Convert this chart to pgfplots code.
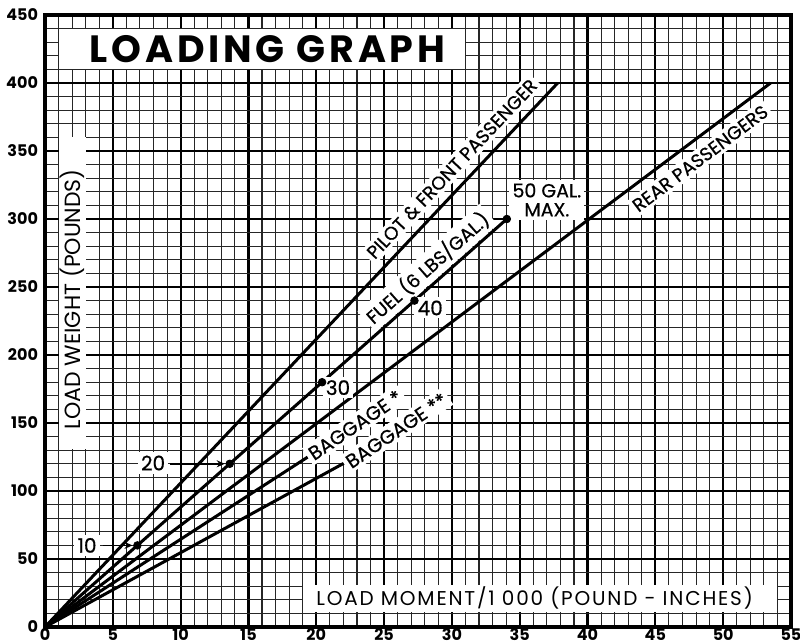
\documentclass[border=0pt]{standalone}
\usepackage{fontspec}
\setmainfont{Poppins}
\newfontfamily\xlabfont{Poppins}[LetterSpace=9]
\newfontfamily\titlefont{Poppins}[LetterSpace=10]
\newfontfamily\medfont{Poppins}[FakeBold=0.6]
\usepackage{pgfplots}
\pgfplotsset{compat=1.18}
\usetikzlibrary{arrows.meta}
\tikzset{lbl/.style={fill=white, inner sep=1.6pt, font=\medfont\fontsize{9.3}{10}\selectfont}}
\begin{document}
\begin{tikzpicture}
\begin{axis}[
  at={(0,0)}, anchor=south west,
  scale only axis, width=373pt, height=306pt,
  xmin=0, xmax=55, ymin=0, ymax=450,
  xtick={0,5,...,55}, ytick={0,50,...,450},
  minor x tick num=4, minor y tick num=4,
  grid=both,
  major grid style={line width=1.1pt, black},
  minor grid style={line width=0.55pt, black!85},
  axis line style={line width=1.6pt, black},
  major tick length=0pt, minor tick length=0pt,
  tick style={draw=none},
  /pgf/number format/assume math mode=true,
  ticklabel style={font=\bfseries\fontsize{8}{9}\selectfont},
  xticklabel style={anchor=base, inner sep=0pt, yshift=-6.9pt},
  clip=false,
]
% title and axis-label boxes
\fill[white] (axis cs:1,410) rectangle (axis cs:31,440);
\node[font=\titlefont\bfseries\fontsize{19}{21}\selectfont] at (axis cs:16.4,425) {LOADING GRAPH};
\fill[white] (axis cs:1,131) rectangle (axis cs:3,360);
\node[rotate=90, font=\fontsize{11}{12}\selectfont] at (axis cs:2,241) {LOAD WEIGHT (POUNDS)};
\fill[white] (axis cs:19,11) rectangle (axis cs:54,31);
\node[font=\xlabfont\fontsize{10}{11}\selectfont] at (axis cs:36.1,21) {LOAD MOMENT/1 000 (POUND - INCHES)};

% labels that sit beside their lines
\node[lbl, rotate=46.7] at (axis cs:30.0,336.8) {PILOT \& FRONT PASSENGER};
\node[lbl, rotate=41.5] at (axis cs:28.2,264) {FUEL (6 LBS/GAL.)};
\node[lbl, rotate=36.9] at (axis cs:48.3,344.5) {REAR PASSENGERS};

% load lines
\addplot[line width=1.5pt, black] coordinates {(0,0) (37.8,400)};   % pilot & front passenger
\addplot[line width=1.5pt, black] coordinates {(0,0) (34.05,300)};  % fuel
\addplot[line width=1.5pt, black] coordinates {(0,0) (53.5,400)};   % rear passengers
\addplot[line width=1.5pt, black] coordinates {(0,0) (23.25,150)};  % baggage *
\addplot[line width=1.5pt, black] coordinates {(0,0) (27.45,150)};  % baggage **

% baggage labels cover their lines
\node[lbl, rotate=34, font=\medfont\fontsize{9.7}{10}\selectfont] at (axis cs:22.86,148.5) {BAGGAGE *};
\node[lbl, rotate=34, font=\medfont\fontsize{9.7}{10}\selectfont] at (axis cs:25.9,144.5) {BAGGAGE **};

% fuel gallon marks
\addplot[only marks, mark=*, mark size=1.9pt, black] coordinates {(6.81,60) (13.62,120) (20.43,180) (27.24,240) (34.05,300)};
\node[lbl, font=\medfont\fontsize{10}{11}\selectfont] at (axis cs:3.1,60) {10};
\node[lbl, font=\medfont\fontsize{10}{11}\selectfont] at (axis cs:7.97,120.6) {20};
\draw[line width=0.9pt, -{Stealth[length=4pt,width=3.5pt]}] (axis cs:4.3,60) -- (axis cs:6.45,60);
\draw[line width=0.9pt, -{Stealth[length=4pt,width=3.5pt]}] (axis cs:9.2,120) -- (axis cs:13.25,120);
\node[lbl, font=\medfont\fontsize{10}{11}\selectfont] at (axis cs:21.6,176) {30};
\node[lbl, font=\medfont\fontsize{10}{11}\selectfont] at (axis cs:28.4,234.6) {40};
\node[lbl, align=center, font=\medfont\fontsize{9.5}{9.5}\selectfont] at (axis cs:37,314) {50 GAL.\\MAX.};
\end{axis}
\pgfresetboundingbox
\path[use as bounding box] (-22.5pt,-8.5pt) rectangle (377.5pt,313.5pt);
\end{tikzpicture}
\end{document}
